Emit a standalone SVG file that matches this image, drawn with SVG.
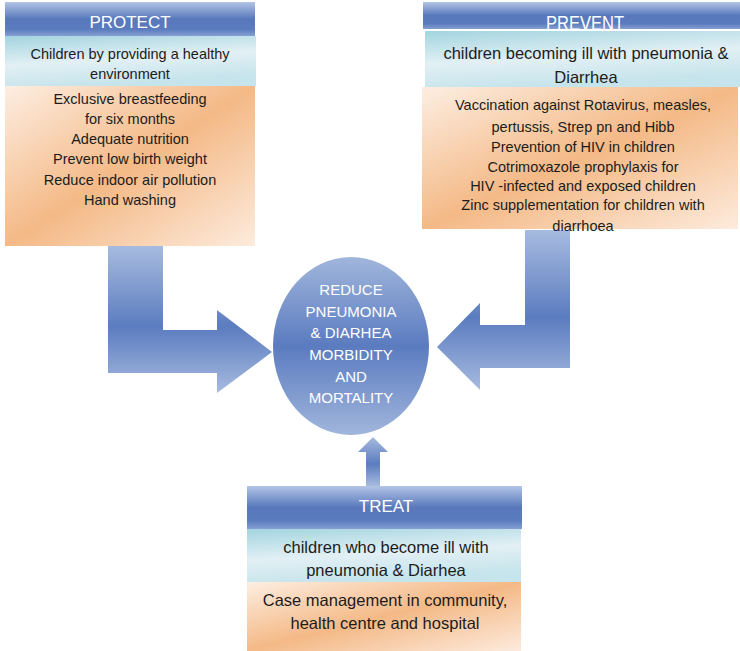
<svg xmlns="http://www.w3.org/2000/svg" width="740" height="651" viewBox="0 0 740 651">
  <defs>
    <linearGradient id="hdr" x1="0" y1="0" x2="0" y2="1">
      <stop offset="0" stop-color="#b3c5e6"/>
      <stop offset="0.5" stop-color="#5878bb"/>
      <stop offset="0.8" stop-color="#5a7bbe"/>
      <stop offset="1" stop-color="#869fd3"/>
    </linearGradient>
    <linearGradient id="cyan" x1="0" y1="0" x2="0.3" y2="1">
      <stop offset="0" stop-color="#a3d4df"/>
      <stop offset="0.55" stop-color="#e2f0f5"/>
      <stop offset="1" stop-color="#c6e4eb"/>
    </linearGradient>
    <linearGradient id="orange" x1="0" y1="0" x2="1" y2="1">
      <stop offset="0" stop-color="#fdeee2"/>
      <stop offset="0.5" stop-color="#f4b986"/>
      <stop offset="1" stop-color="#fdebdd"/>
    </linearGradient>
    <linearGradient id="arrowFill" x1="0" y1="0" x2="0" y2="1">
      <stop offset="0" stop-color="#a7bbdf"/>
      <stop offset="0.55" stop-color="#5b7cc0"/>
      <stop offset="1" stop-color="#a7bbdf"/>
    </linearGradient>
    <linearGradient id="ellFill" x1="0" y1="0" x2="0" y2="1">
      <stop offset="0" stop-color="#a1b6dc"/>
      <stop offset="0.5" stop-color="#5a7bbf"/>
      <stop offset="1" stop-color="#a1b6dc"/>
    </linearGradient>
  </defs>
  <style>
    .hdr { fill: url(#hdr); }
    .cyan { fill: url(#cyan); }
    .orange { fill: url(#orange); }
    .arrow { fill: url(#arrowFill); }
    text { font-family: "Liberation Sans", Arial, Helvetica, sans-serif; text-anchor: middle; }
    .title { fill: #ffffff; font-size: 17px; }
    .body { fill: #1c1c1c; font-size: 14.5px; }
    .big { fill: #1c1c1c; font-size: 16.5px; }
    .goal { fill: #ffffff; font-size: 15px; }
  </style>

  <rect width="740" height="651" fill="#ffffff"/>

  <!-- connectors: block arrows into the central goal -->
  <g id="connectors">
    <path class="arrow" d="M108,246 L163,246 L163,330 L217,330 L217,310 L272,352 L217,393 L217,373 L108,373 Z"/>
    <path class="arrow" d="M525,230 L570,230 L570,368 L480,368 L480,390 L437,347 L480,303 L480,325 L525,325 Z"/>
    <path class="arrow" d="M366,486 L366,452 L358,452 L373,437 L388,452 L380,452 L380,486 Z"/>
  </g>

  <!-- central goal -->
  <g id="goal">
    <ellipse cx="351" cy="346" rx="78" ry="89" fill="url(#ellFill)"/>
    <text class="goal" x="351" y="295">REDUCE</text>
    <text class="goal" x="351" y="317">PNEUMONIA</text>
    <text class="goal" x="351" y="338">&amp; DIARHEA</text>
    <text class="goal" x="351" y="360">MORBIDITY</text>
    <text class="goal" x="351" y="382">AND</text>
    <text class="goal" x="351" y="403">MORTALITY</text>
  </g>

  <!-- PROTECT -->
  <g id="protect">
    <rect class="hdr" x="5" y="2" width="250" height="34"/>
    <text class="title" x="130" y="28">PROTECT</text>
    <rect class="cyan" x="5" y="36" width="251" height="50"/>
    <text class="body" x="130" y="59">Children by providing a healthy</text>
    <text class="body" x="130" y="79">environment</text>
    <rect class="orange" x="5" y="86" width="250" height="160"/>
    <text class="body" x="130" y="104">Exclusive breastfeeding</text>
    <text class="body" x="130" y="124">for six months</text>
    <text class="body" x="130" y="144">Adequate nutrition</text>
    <text class="body" x="130" y="164">Prevent low birth weight</text>
    <text class="body" x="130" y="185">Reduce indoor air pollution</text>
    <text class="body" x="130" y="205">Hand washing</text>
  </g>

  <!-- PREVENT: the tall title runs under the white gap and the cyan band -->
  <g id="prevent">
    <rect class="hdr" x="423" y="2" width="317" height="27"/>
    <text class="title" x="585" y="29.5" style="font-size:21px" textLength="78" lengthAdjust="spacingAndGlyphs">PREVENT</text>
    <rect x="423" y="29" width="317" height="2" fill="#ffffff"/>
    <rect class="cyan" x="425" y="31" width="315" height="56"/>
    <text class="big" x="586" y="59">children becoming ill with pneumonia &amp;</text>
    <text class="big" x="586" y="83">Diarrhea</text>
    <rect class="orange" x="422" y="87" width="316" height="142"/>
    <text class="body" x="583" y="110">Vaccination against Rotavirus, measles,</text>
    <text class="body" x="583" y="132">pertussis, Strep pn and Hibb</text>
    <text class="body" x="583" y="152">Prevention of HIV in children</text>
    <text class="body" x="583" y="172">Cotrimoxazole prophylaxis for</text>
    <text class="body" x="583" y="191">HIV -infected and exposed children</text>
    <text class="body" x="583" y="210">Zinc supplementation for children with</text>
    <text class="body" x="583" y="231">diarrhoea</text>
  </g>

  <!-- TREAT -->
  <g id="treat">
    <rect class="hdr" x="247" y="486" width="275" height="43"/>
    <text class="title" x="386" y="512">TREAT</text>
    <rect class="cyan" x="247" y="529" width="274" height="53"/>
    <text class="big" x="386" y="553">children who become ill with</text>
    <text class="big" x="386" y="576">pneumonia &amp; Diarhea</text>
    <rect class="orange" x="247" y="582" width="274" height="69"/>
    <text class="big" x="385" y="606">Case management in community,</text>
    <text class="big" x="385" y="629">health centre and hospital</text>
  </g>
</svg>
